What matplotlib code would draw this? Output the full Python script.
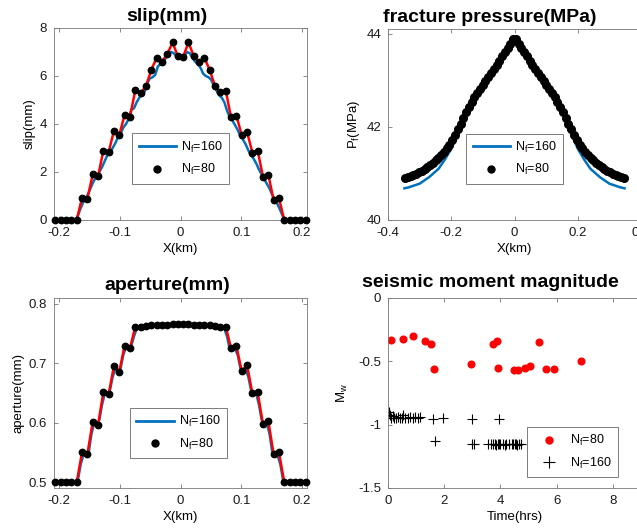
import numpy as np
import matplotlib
matplotlib.use('Agg')
import matplotlib.pyplot as plt
from matplotlib.lines import Line2D

plt.rcParams['font.family'] = ['Liberation Sans', 'DejaVu Sans']
plt.rcParams['mathtext.fontset'] = 'custom'
plt.rcParams['mathtext.rm'] = 'Liberation Sans'
plt.rcParams['axes.unicode_minus'] = False

# element centres, N_f=80 (whole fracture)
x80 = [-0.3456, -0.3369, -0.3281, -0.3194, -0.3106, -0.3019, -0.2931, -0.2844,
       -0.2756, -0.2669, -0.2581, -0.2494, -0.2406, -0.2319, -0.2231, -0.2144,
       -0.2056, -0.1969, -0.1881, -0.1794, -0.1706, -0.1619, -0.1531, -0.1444,
       -0.1356, -0.1269, -0.1181, -0.1094, -0.1006, -0.0919, -0.0831, -0.0744,
       -0.0656, -0.0569, -0.0481, -0.0394, -0.0306, -0.0219, -0.0131, -0.0044,
       0.0044, 0.0131, 0.0219, 0.0306, 0.0394, 0.0481, 0.0569, 0.0656,
       0.0744, 0.0831, 0.0919, 0.1006, 0.1094, 0.1181, 0.1269, 0.1356,
       0.1444, 0.1531, 0.1619, 0.1706, 0.1794, 0.1881, 0.1969, 0.2056,
       0.2144, 0.2231, 0.2319, 0.2406, 0.2494, 0.2581, 0.2669, 0.2756,
       0.2844, 0.2931, 0.3019, 0.3106, 0.3194, 0.3281, 0.3369, 0.3456]

# element centres, N_f=160, shown part (|x| < 0.21)
x160 = [-0.2078, -0.2034, -0.1991, -0.1947, -0.1903, -0.1859, -0.1816, -0.1772,
        -0.1728, -0.1684, -0.1641, -0.1597, -0.1553, -0.1509, -0.1466, -0.1422,
        -0.1378, -0.1334, -0.1291, -0.1247, -0.1203, -0.1159, -0.1116, -0.1072,
        -0.1028, -0.0984, -0.0941, -0.0897, -0.0853, -0.0809, -0.0766, -0.0722,
        -0.0678, -0.0634, -0.0591, -0.0547, -0.0503, -0.0459, -0.0416, -0.0372,
        -0.0328, -0.0284, -0.0241, -0.0197, -0.0153, -0.0109, -0.0066, -0.0022,
        0.0022, 0.0066, 0.0109, 0.0153, 0.0197, 0.0241, 0.0284, 0.0328,
        0.0372, 0.0416, 0.0459, 0.0503, 0.0547, 0.0591, 0.0634, 0.0678,
        0.0722, 0.0766, 0.0809, 0.0853, 0.0897, 0.0941, 0.0984, 0.1028,
        0.1072, 0.1116, 0.1159, 0.1203, 0.1247, 0.1291, 0.1334, 0.1378,
        0.1422, 0.1466, 0.1509, 0.1553, 0.1597, 0.1641, 0.1684, 0.1728,
        0.1772, 0.1816, 0.1859, 0.1903, 0.1947, 0.1991, 0.2034, 0.2078]

# slip (mm), N_f=80 elements 17..64 (x80[16:64])
slip80 = [0, 0, 0, 0, 0, 0.93, 0.88, 1.9, 1.82, 2.88, 2.83, 3.72,
          3.55, 4.38, 4.3, 5.4, 5.3, 5.57, 6.25, 6.75, 6.6, 6.9, 7.4, 6.82,
          6.8, 7.4, 6.82, 6.58, 6.76, 6.24, 5.57, 5.32, 5.39, 4.28, 4.35, 3.54,
          3.68, 2.81, 2.88, 1.81, 1.89, 0.83, 0.91, 0, 0, 0, 0, 0]
slip160 = [0, 0, 0, 0, 0, 0, 0, 0, 0, 0.2, 0.5, 0.75,
           0.9, 1.15, 1.4, 1.65, 1.8, 2.0, 2.2, 2.45, 2.7, 2.75, 3.0, 3.2,
           3.45, 3.6, 3.85, 4.0, 4.2, 4.6, 4.65, 4.9, 5.1, 5.2, 5.35, 5.7,
           5.9, 5.95, 6.05, 6.4, 6.5, 6.6, 6.75, 6.85, 7.0, 6.95, 6.8, 6.85,
           6.8, 6.85, 7.0, 6.95, 6.75, 6.6, 6.5, 6.35, 6.1, 6.0, 5.95, 5.85,
           5.6, 5.4, 5.2, 5.1, 4.9, 4.55, 4.3, 4.15, 3.95, 3.75, 3.5, 3.35,
           3.15, 2.9, 2.7, 2.55, 2.35, 2.1, 1.9, 1.7, 1.5, 1.3, 1.05, 0.85,
           0.65, 0.4, 0.15, 0, 0, 0, 0, 0, 0, 0, 0, 0]

# aperture (mm)
aper80 = [0.5, 0.5, 0.5, 0.5, 0.5, 0.55, 0.547, 0.601, 0.596, 0.651, 0.648, 0.696,
          0.686, 0.730, 0.725, 0.762, 0.762, 0.763, 0.764, 0.764, 0.765, 0.765, 0.766, 0.766,
          0.766, 0.766, 0.765, 0.765, 0.764, 0.764, 0.763, 0.762, 0.762, 0.725, 0.729, 0.687,
          0.697, 0.65, 0.651, 0.598, 0.603, 0.547, 0.55, 0.5, 0.5, 0.5, 0.5, 0.5]
aper160 = [0.5, 0.5, 0.5, 0.5, 0.5, 0.5, 0.5, 0.5, 0.5, 0.505, 0.53, 0.545,
           0.547, 0.55, 0.58, 0.598, 0.596, 0.605, 0.63, 0.648, 0.647, 0.655, 0.677, 0.69,
           0.686, 0.692, 0.714, 0.727, 0.724, 0.73, 0.745, 0.758, 0.762, 0.762, 0.763, 0.763,
           0.764, 0.764, 0.764, 0.765, 0.765, 0.765, 0.765, 0.766, 0.766, 0.766, 0.766, 0.766,
           0.766, 0.766, 0.766, 0.766, 0.766, 0.765, 0.765, 0.765, 0.765, 0.764, 0.764, 0.764,
           0.763, 0.763, 0.762, 0.762, 0.758, 0.745, 0.724, 0.722, 0.724, 0.714, 0.692, 0.686,
           0.69, 0.677, 0.655, 0.647, 0.648, 0.63, 0.605, 0.596, 0.598, 0.58, 0.55, 0.547,
           0.545, 0.53, 0.505, 0.5, 0.5, 0.5, 0.5, 0.5, 0.5, 0.5, 0.5, 0.5]

# fracture pressure (MPa)
pf80 = [40.90, 40.92, 40.94, 40.97, 40.99, 41.02, 41.06, 41.10, 41.14, 41.18,
        41.23, 41.28, 41.33, 41.39, 41.46, 41.54, 41.62, 41.71, 41.83, 41.95,
        42.07, 42.19, 42.31, 42.43, 42.53, 42.63, 42.72, 42.81, 42.89, 42.98,
        43.07, 43.15, 43.24, 43.33, 43.42, 43.51, 43.60, 43.69, 43.78, 43.88,
        43.88, 43.78, 43.69, 43.60, 43.51, 43.42, 43.33, 43.24, 43.15, 43.07,
        42.98, 42.89, 42.81, 42.72, 42.63, 42.53, 42.43, 42.31, 42.19, 42.07,
        41.95, 41.83, 41.71, 41.62, 41.54, 41.46, 41.39, 41.33, 41.28, 41.23,
        41.18, 41.14, 41.10, 41.06, 41.02, 40.99, 40.97, 40.94, 40.92, 40.90]
xp160 = [-0.348, -0.335, -0.30, -0.27, -0.24, -0.22, -0.20, -0.18, -0.16, -0.14,
         -0.12, -0.10, -0.08, -0.06, -0.04, -0.02, 0.0,
         0.02, 0.04, 0.06, 0.08, 0.10, 0.12, 0.14, 0.16, 0.18, 0.20,
         0.22, 0.24, 0.27, 0.30, 0.335, 0.348]
pf160 = [40.68, 40.70, 40.78, 40.92, 41.10, 41.30, 41.53, 41.84, 42.19, 42.47,
         42.70, 42.89, 43.09, 43.29, 43.50, 43.71, 43.93,
         43.71, 43.50, 43.29, 43.09, 42.89, 42.70, 42.47, 42.19, 41.84, 41.53,
         41.30, 41.10, 40.92, 40.78, 40.70, 40.68]

# seismic moment magnitude
t80 = [0.09, 0.54, 0.89, 1.30, 1.54, 1.63, 2.97, 3.75, 3.86, 3.92, 4.48, 4.63,
       4.89, 5.04, 5.36, 5.62, 5.89, 6.87]
mw80 = [-0.33, -0.326, -0.30, -0.34, -0.36, -0.56, -0.52, -0.36, -0.34, -0.55, -0.565, -0.565,
        -0.55, -0.54, -0.345, -0.56, -0.56, -0.50]
t160 = [0.03, 0.08, 0.12, 0.18, 0.22, 0.28, 0.35, 0.42, 0.50, 0.55, 0.62, 0.70,
        0.78, 0.88, 0.95, 1.05, 1.15, 1.59, 1.95, 2.98, 3.95,
        1.68, 2.98, 3.06, 3.55, 3.65, 3.72, 3.80, 3.85, 3.90, 3.95, 4.00,
        4.08, 4.15, 4.20, 4.30, 4.40, 4.45, 4.50, 4.55, 4.60, 4.65, 4.72]
mw160 = [-0.90, -0.92, -0.95, -0.93, -0.95, -0.95, -0.94, -0.95, -0.95, -0.92, -0.95, -0.95,
         -0.94, -0.95, -0.94, -0.95, -0.94, -0.955, -0.95, -0.955, -0.955,
         -1.13, -1.155, -1.155, -1.155, -1.155, -1.15, -1.155, -1.16, -1.155, -1.15, -1.155,
         -1.155, -1.16, -1.155, -1.15, -1.155, -1.155, -1.15, -1.155, -1.16, -1.155, -1.155]

xt_slip = [-0.2, -0.1, 0, 0.1, 0.2]
xt_slip_lab = ['-0.2', '-0.1', '0', '0.1', '0.2']
xt_pf = [-0.4, -0.2, 0, 0.2, 0.4]
xt_pf_lab = ['-0.4', '-0.2', '0', '0.2', '0.4']
yt_mw = [-1.5, -1, -0.5, 0]
yt_mw_lab = ['-1.5', '-1', '-0.5', '0']

blue = (0, 0.447, 0.741)
lab160 = 'N$_{\\rm f}$=160'
lab80 = 'N$_{\\rm f}$=80'


def style(ax):
    ax.tick_params(direction='in', length=3, width=0.6, top=True, right=True,
                   labelsize=9.5, color='#777777', labelcolor='#1a1a1a', pad=5)
    for s in ax.spines.values():
        s.set_color('#777777')
        s.set_linewidth(0.6)


def add_legend(ax, handles, labels, anchor, hl=3.0):
    leg = ax.legend(handles, labels, loc='lower left', bbox_to_anchor=anchor,
                    fontsize=9, frameon=True, fancybox=False, framealpha=1,
                    edgecolor='#666666', handlelength=hl, borderaxespad=0,
                    handletextpad=0.4, borderpad=0.5, labelspacing=0.6)
    leg.get_frame().set_linewidth(0.6)


fig = plt.figure(figsize=(6.37, 5.31), dpi=100)
W, H = 637.0, 531.0

def axes_px(x0, y0, x1, y1):
    return fig.add_axes([x0 / W, 1 - y1 / H, (x1 - x0) / W, (y1 - y0) / H])

h_line = Line2D([], [], color=blue, lw=2)
h_dot = Line2D([], [], color='k', marker='o', ls='none', ms=5)
tkw = dict(fontsize=14, fontweight='bold')

# slip
ax = axes_px(54, 28, 307, 220)
xs = x80[16:64]
ax.plot(x160, slip160, color=blue, lw=1.8, zorder=2)
ax.plot(xs, slip80, color='r', lw=1.8, zorder=3)
ax.plot(xs, slip80, 'ko', ms=4.6, zorder=4, clip_on=False)
ax.set_xlim(-0.208, 0.208)
ax.set_ylim(0, 8)
ax.set_xticks(xt_slip)
ax.set_xticklabels(xt_slip_lab)
ax.set_yticks([0, 2, 4, 6, 8])
ax.set_title('slip(mm)', x=0.447, pad=5, **tkw)
ax.set_xlabel('X(km)', fontsize=9.5, labelpad=3)
ax.set_ylabel('slip(mm)', fontsize=9.5, labelpad=3)
style(ax)
add_legend(ax, [h_line, h_dot], [lab160, lab80], (0.31, 0.19))

# fracture pressure
ax = axes_px(388, 29, 641, 220)
ax.plot(xp160, pf160, color=blue, lw=1.8, zorder=2)
ax.plot(x80, pf80, 'ko', ms=5.5, zorder=3)
ax.set_xlim(-0.4, 0.4)
ax.set_ylim(40, 44.1)
ax.set_xticks(xt_pf)
ax.set_xticklabels(xt_pf_lab)
ax.set_yticks([40, 42, 44])
ax.set_title('fracture pressure(MPa)', x=0.403, pad=5, **tkw)
ax.set_xlabel('X(km)', fontsize=9.5, labelpad=3)
ax.set_ylabel('P$_{\\rm f}$(MPa)', fontsize=9.5, labelpad=3)
style(ax)
add_legend(ax, [h_line, h_dot], [lab160, lab80], (0.31, 0.19))

# aperture
ax = axes_px(54, 298, 307, 488)
ax.plot(x160, aper160, color=blue, lw=1.8, zorder=2)
ax.plot(xs, aper80, color='r', lw=1.8, zorder=3)
ax.plot(xs, aper80, 'ko', ms=4.6, zorder=4, clip_on=False)
ax.set_xlim(-0.208, 0.208)
ax.set_ylim(0.49, 0.81)
ax.set_xticks(xt_slip)
ax.set_xticklabels(xt_slip_lab)
ax.set_yticks([0.5, 0.6, 0.7, 0.8])
ax.set_title('aperture(mm)', x=0.447, pad=6, **tkw)
ax.set_xlabel('X(km)', fontsize=9.5, labelpad=3)
ax.set_ylabel('aperture(mm)', fontsize=9.5, labelpad=3)
style(ax)
add_legend(ax, [h_line, h_dot], [lab160, lab80], (0.30, 0.158))

# seismic moment magnitude
ax = axes_px(388, 298, 641, 488)
ax.plot(t80, mw80, 'o', color='r', ms=4.8, ls='none')
ax.plot(t160, mw160, '+', color='k', ms=7, mew=0.8, ls='none')
ax.set_xlim(0, 9)
ax.set_ylim(-1.5, 0)
ax.set_xticks([0, 2, 4, 6, 8])
ax.set_yticks(yt_mw)
ax.set_yticklabels(yt_mw_lab)
ax.set_title('seismic moment magnitude', x=0.403, pad=8, **tkw)
ax.set_xlabel('Time(hrs)', fontsize=9.5, labelpad=3)
ax.set_ylabel('M$_{\\rm w}$', fontsize=9.5, labelpad=6)
style(ax)
h_rdot = Line2D([], [], color='r', marker='o', ls='none', ms=5)
h_plus = Line2D([], [], color='k', marker='+', ls='none', ms=8, mew=0.8)
add_legend(ax, [h_rdot, h_plus], [lab80, lab160], (0.55, 0.058), hl=2.5)

fig.savefig('out.png', dpi=100)
